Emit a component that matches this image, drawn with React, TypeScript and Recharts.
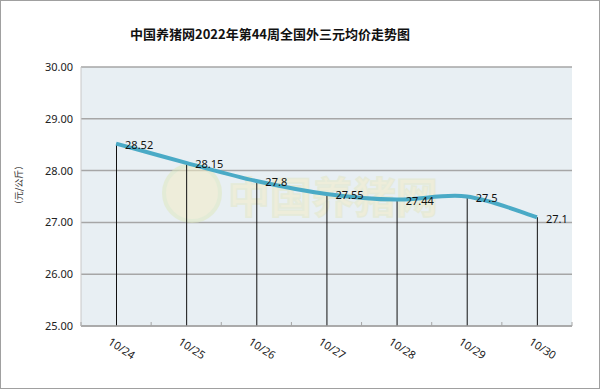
import React from 'react';
import {
  ComposedChart,
  Line,
  Bar,
  XAxis,
  YAxis,
  CartesianGrid,
  Customized,
} from 'recharts';

// Weekly data (元/公斤)
const DATES = ['10/24', '10/25', '10/26', '10/27', '10/28', '10/29', '10/30'];
const PRICES = [28.52, 28.15, 27.8, 27.55, 27.44, 27.5, 27.1];
const Y_TICKS = [25, 26, 27, 28, 29, 30];

const TITLE = '中国养猪网2022年第44周全国外三元均价走势图';
const Y_LABEL = '（元/公斤）';
const WATERMARK = '中国养猪网';

const chartData = DATES.map((date, i) => ({ date, price: PRICES[i] }));

const FONT = '"Noto Sans", "Noto Sans CJK SC", sans-serif';

// Excel-like smoothing (Catmull-Rom through every point)
const excelCurve = (ctx: any) => {
  let pts: [number, number][] = [];
  return {
    areaStart() {},
    areaEnd() {},
    lineStart() {
      pts = [];
    },
    point(x: number, y: number) {
      pts.push([+x, +y]);
    },
    lineEnd() {
      if (!pts.length) return;
      ctx.moveTo(pts[0][0], pts[0][1]);
      for (let i = 0; i < pts.length - 1; i++) {
        const p0 = pts[Math.max(i - 1, 0)];
        const p1 = pts[i];
        const p2 = pts[i + 1];
        const p3 = pts[Math.min(i + 2, pts.length - 1)];
        ctx.bezierCurveTo(
          p1[0] + (p2[0] - p0[0]) / 6,
          p1[1] + (p2[1] - p0[1]) / 6,
          p2[0] - (p3[0] - p1[0]) / 6,
          p2[1] - (p3[1] - p1[1]) / 6,
          p2[0],
          p2[1]
        );
      }
    },
  };
};

// x tick: rotated label plus small tick marks at band edges
const DateTick = (props: any): React.ReactElement => {
  const { x, y, payload, index } = props;
  const off = payload.offset || 35;
  return (
    <g>
      {index === 0 && <line x1={x - off} x2={x - off} y1={y - 4} y2={y} stroke="#a6a6a6" />}
      <line x1={x + off} x2={x + off} y1={y - 4} y2={y} stroke="#a6a6a6" />
      <text
        x={0}
        y={0}
        textAnchor="middle"
        dominantBaseline="central"
        fontSize={11}
        fill="#222"
        fontFamily={FONT}
        transform={`translate(${x + 6},${y + 22}) rotate(33)`}
      >
        {payload.value}
      </text>
    </g>
  );
};

const PriceLabel = (props: any): React.ReactElement => {
  const { x, y, value } = props;
  return (
    <text x={x + 9} y={y + 1} dominantBaseline="central" fontSize={11} fill="#111" fontFamily={FONT}>
      {value}
    </text>
  );
};

// faint site logo behind the line
const Watermark = (): React.ReactElement => (
  <g opacity={0.55}>
    <circle cx={192} cy={193} r={28} fill="#f3ecc6" stroke="#dfe8c0" strokeWidth={4} />
    <text
      x={333}
      y={194}
      textAnchor="middle"
      dominantBaseline="central"
      fontSize={42}
      fontWeight="bold"
      fill="#f3ecc6"
      stroke="#e3e7c4"
      strokeWidth={1.5}
      fontFamily='"Noto Sans CJK SC", sans-serif'
    >
      {WATERMARK}
    </text>
  </g>
);

export default function App(): React.ReactElement {
  return (
    <div style={{ position: 'relative', width: 600, height: 389, background: '#fff' }}>
      <style>{'body{margin:0}'}</style>
      <ComposedChart
        width={600}
        height={389}
        data={chartData}
        margin={{ top: 67, right: 28, bottom: 0, left: 0 }}
      >
        <text
          x={270}
          y={33}
          textAnchor="middle"
          dominantBaseline="central"
          fontSize={13}
          fontWeight="bold"
          fill="#111"
          fontFamily='"Noto Sans CJK SC", sans-serif'
        >
          {TITLE}
        </text>
        <text
          x={0}
          y={0}
          textAnchor="middle"
          dominantBaseline="central"
          fontSize={9}
          fill="#333"
          fontFamily='"Noto Sans CJK SC", sans-serif'
          transform="translate(18,185) rotate(-90)"
        >
          {Y_LABEL}
        </text>
        <CartesianGrid vertical={false} stroke="#a6a6a6" strokeWidth={1.5} fill="#e8eff3" />
        <XAxis
          dataKey="date"
          height={63}
          tickSize={0}
          tickMargin={0}
          tickLine={false}
          axisLine={{ stroke: '#a6a6a6', strokeWidth: 1.5 }}
          tick={<DateTick />}
          interval={0}
        />
        <YAxis
          width={81}
          domain={[25, 30]}
          ticks={Y_TICKS}
          tickFormatter={(v: number) => v.toFixed(2)}
          tickLine={false}
          axisLine={{ stroke: '#c8c8c8' }}
          tick={{ fontSize: 11, fill: '#222', fontFamily: FONT }}
        />
        <Customized component={Watermark} />
        <Bar dataKey="price" barSize={1} fill="#111" isAnimationActive={false} />
        <Line
          type={excelCurve as any}
          dataKey="price"
          stroke="#4aaac6"
          strokeWidth={4}
          dot={false}
          label={<PriceLabel />}
          isAnimationActive={false}
        />
      </ComposedChart>
      <div
        style={{
          position: 'absolute',
          inset: 0,
          border: '1px solid #a0a0a0',
          pointerEvents: 'none',
        }}
      />
    </div>
  );
}
